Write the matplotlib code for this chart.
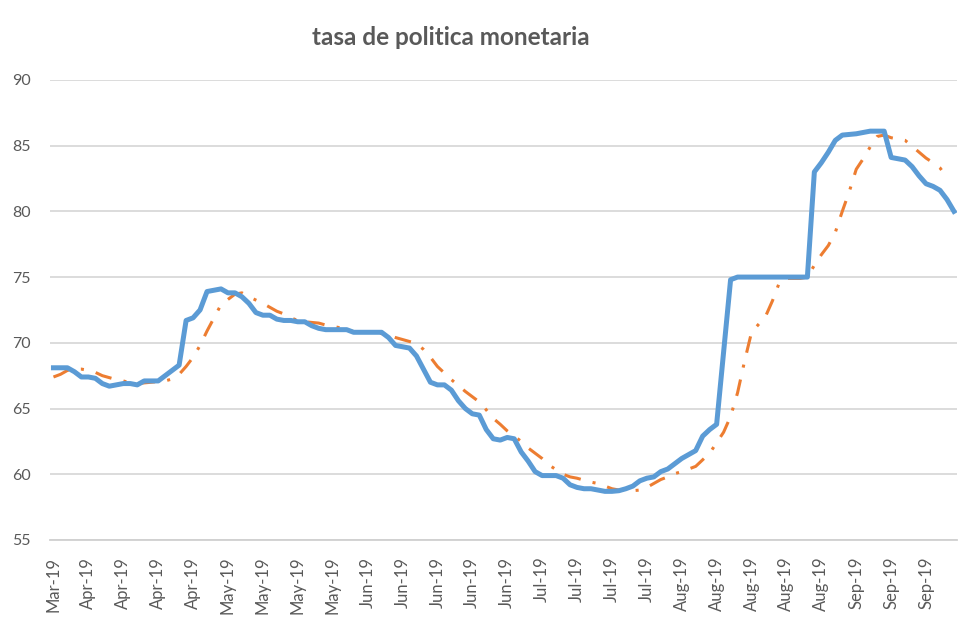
import matplotlib.pyplot as plt
import numpy as np

plt.rcParams['font.family'] = ['Lato', 'DejaVu Sans']

GRAY = '#595959'
BLUE = '#5b9bd5'
ORANGE = '#ed7d31'

# --- Data (one value per trading day) ---------------------------------
tasa = [
    68.1, 68.1, 68.1, 67.8, 67.4, 67.4, 67.3, 66.9, 66.7, 66.8,
    66.9, 66.9, 66.8, 67.1, 67.1, 67.1, 67.5, 67.9, 68.3, 71.7,
    71.9, 72.5, 73.9, 74.0, 74.1, 73.8, 73.8, 73.5, 73.0, 72.3,
    72.1, 72.1, 71.8, 71.7, 71.7, 71.6, 71.6, 71.3, 71.1, 71.0,
    71.0, 71.0, 71.0, 70.8, 70.8, 70.8, 70.8, 70.8, 70.4, 69.8,
    69.7, 69.6, 69.0, 68.0, 67.0, 66.8, 66.8, 66.4, 65.6, 65.0,
    64.6, 64.5, 63.4, 62.7, 62.6, 62.8, 62.7, 61.7, 61.0, 60.2,
    59.9, 59.9, 59.9, 59.7, 59.2, 59.0, 58.9, 58.9, 58.8, 58.7,
    58.7, 58.75, 58.9, 59.1, 59.5, 59.7, 59.8, 60.2, 60.4, 60.8,
    61.2, 61.5, 61.8, 62.9, 63.4, 63.8, 69.3, 74.8, 75.0, 75.0,
    75.0, 75.0, 75.0, 75.0, 75.0, 75.0, 75.0, 75.0, 75.0, 83.0,
    83.7, 84.5, 85.4, 85.8, 85.85, 85.9, 86.0, 86.1, 86.1, 86.1,
    84.1, 84.0, 83.9, 83.4, 82.7, 82.1, 81.9, 81.6, 80.9, 80.0,
]

promedio = [
    67.4, 67.6, 67.9, 68.0, 68.0, 67.9, 67.75, 67.5, 67.35, 67.2,
    67.1, 66.95, 66.9, 66.95, 67.0, 67.05, 67.1, 67.25, 67.6, 68.2,
    68.9, 69.8, 70.9, 71.9, 72.9, 73.3, 73.7, 73.8, 73.5, 73.25,
    73.0, 72.7, 72.4, 72.2, 71.9, 71.7, 71.6, 71.55, 71.5, 71.35,
    71.25, 71.15, 71.0, 70.85, 70.8, 70.8, 70.8, 70.7, 70.6, 70.4,
    70.25, 70.1, 69.95, 69.5, 68.9, 68.2, 67.7, 67.2, 66.75, 66.3,
    65.9, 65.5, 64.9, 64.25, 63.8, 63.3, 62.9, 62.5, 62.0, 61.6,
    61.2, 60.7, 60.35, 60.0, 59.8, 59.7, 59.55, 59.4, 59.3, 59.1,
    58.9, 58.8, 58.75, 58.75, 58.8, 59.0, 59.3, 59.6, 59.8, 60.05,
    60.2, 60.4, 60.6, 61.1, 61.6, 62.4, 63.2, 64.4, 66.2, 68.6,
    70.8, 71.4, 72.0, 73.2, 74.6, 74.9, 74.9, 74.9, 75.0, 75.9,
    76.7, 77.4, 78.4, 80.0, 81.5, 83.2, 84.0, 84.9, 85.7, 85.8,
    85.6, 85.5, 85.4, 84.95, 84.5, 84.05, 83.7, 83.3, 82.6, np.nan,
]

tick_labels = [
    'Mar-19', 'Apr-19', 'Apr-19', 'Apr-19', 'Apr-19', 'May-19', 'May-19',
    'May-19', 'May-19', 'Jun-19', 'Jun-19', 'Jun-19', 'Jun-19', 'Jun-19',
    'Jul-19', 'Jul-19', 'Jul-19', 'Jul-19', 'Aug-19', 'Aug-19', 'Aug-19',
    'Aug-19', 'Aug-19', 'Sep-19', 'Sep-19', 'Sep-19',
]

x = np.arange(len(tasa))
tick_pos = x[::5][:len(tick_labels)]

# --- Figure -----------------------------------------------------------
fig = plt.figure(figsize=(9.8, 6.29), dpi=100)
ax = fig.add_axes([0.051, 0.1415, 0.926, 0.7315])

ax.plot(x, promedio, color=ORANGE, linewidth=2.2,
        dashes=(5.5, 4, 1, 4), zorder=3)
ax.plot(x, tasa, color=BLUE, linewidth=3.6, solid_joinstyle='round',
        zorder=4)

ax.set_xlim(-0.5, len(tasa) - 0.5)
ax.set_ylim(55, 90)
ax.set_yticks(np.arange(55, 91, 5))
ax.set_xticks(tick_pos)
ax.set_xticklabels(tick_labels, rotation=90, fontsize=12)

ax.grid(axis='y', color='#d9d9d9', linewidth=1.3)
ax.set_axisbelow(True)
for side in ['top', 'right', 'left']:
    ax.spines[side].set_visible(False)
ax.spines['bottom'].set_color('#d0d0d0')
ax.spines['bottom'].set_linewidth(1.3)

ax.tick_params(axis='both', length=0, labelcolor=GRAY)
ax.tick_params(axis='y', pad=14, labelsize=11.5)
ax.tick_params(axis='x', pad=12)

fig.text(0.46, 0.941, 'tasa de politica monetaria', ha='center',
         va='center', fontsize=17.5, fontweight='bold', color=GRAY)

fig.savefig('out.png', dpi=100, facecolor='white')
